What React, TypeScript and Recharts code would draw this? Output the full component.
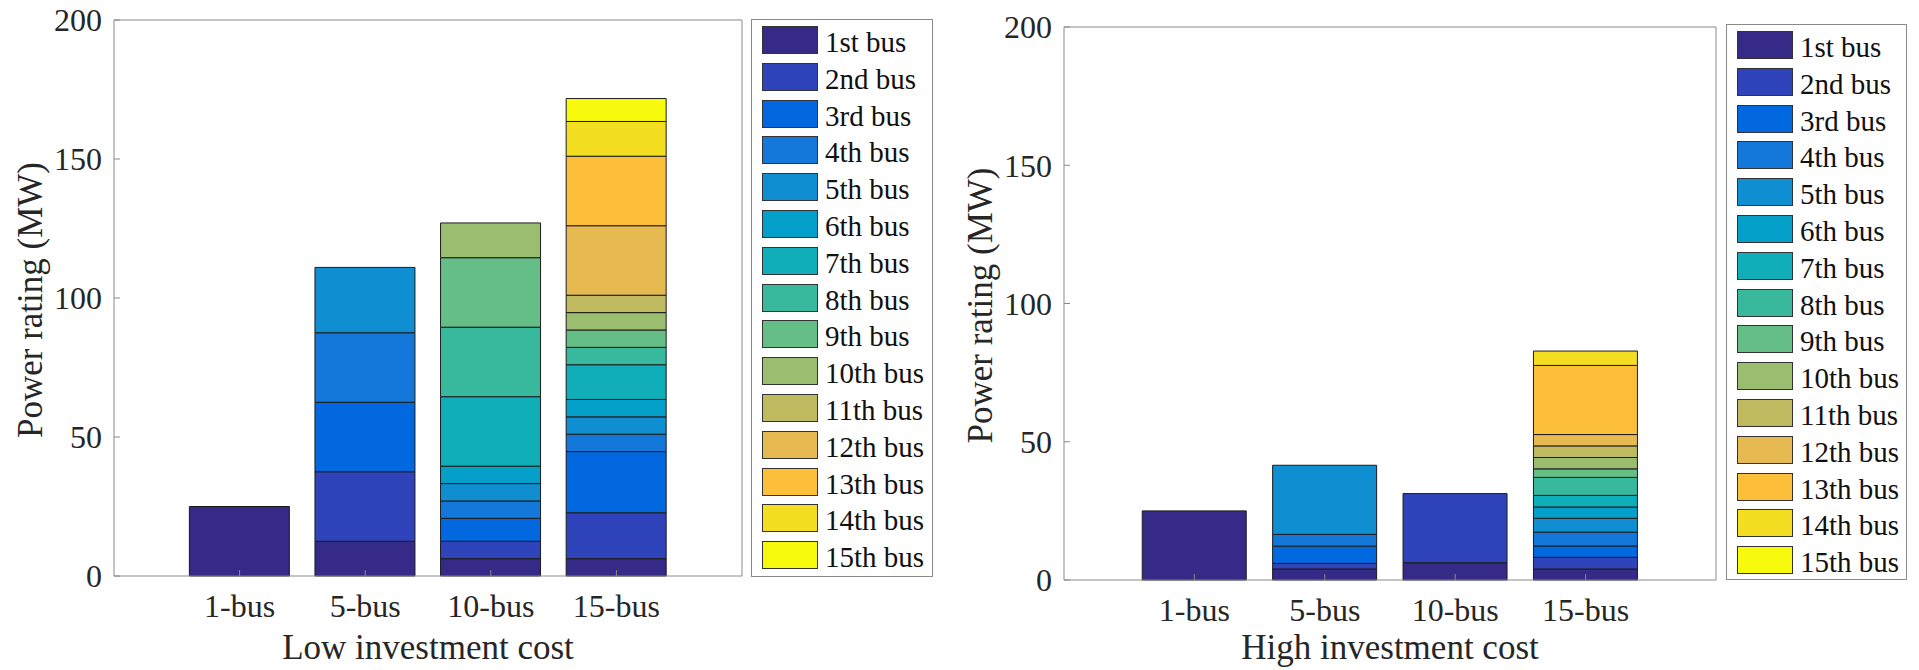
import { Bar, BarChart, Legend, XAxis, YAxis } from "recharts";

const categories = ["1-bus", "5-bus", "10-bus", "15-bus"];
const busNames = [
  "1st bus", "2nd bus", "3rd bus", "4th bus", "5th bus",
  "6th bus", "7th bus", "8th bus", "9th bus", "10th bus",
  "11th bus", "12th bus", "13th bus", "14th bus", "15th bus",
];
const busColors = [
  "#352A87", "#2F44BA", "#0268E0", "#1378DA", "#108ED2",
  "#05A0CA", "#10AEB9", "#38B89D", "#66BE87", "#9BBD6F",
  "#BFBA60", "#E7B951", "#FDBF3A", "#F3DE22", "#F8FA0E",
];
const yTicks = [0, 50, 100, 150, 200];

// MW per bus, bottom to top of each stack
const low1Bus = [25];
const low5Bus = [12.5, 25, 25, 25, 23.5];
const low10Bus = [6.25, 6.25, 8.25, 6.25, 6.25, 6.25, 25, 25, 25, 12.5];
const low15Bus = [6.25, 16.5, 22, 6.25, 6.25, 6.25, 12.5, 6.25, 6.25, 6.25, 6.25, 25, 25, 12.5, 8.25];

const high1Bus = [25];
const high5Bus = [4, 2, 6.25, 4.25, 25];
const high10Bus = [6.25, 25];
const high15Bus = [4, 4.2, 4.1, 5, 5, 4.1, 4.2, 6.5, 3.1, 4.1, 4.2, 4.1, 25, 5.2];

const FONT = "Liberation Serif";
const AXIS = "#8a8a8a";
const TEXT = "#262626";
const H = 670;

function buildRows(groups: number[][]) {
  return categories.map((name, i) => {
    const row: Record<string, string | number> = { name };
    groups[i].forEach((v, j) => {
      row[`b${j}`] = v;
    });
    return row;
  });
}

function BusLegend() {
  return (
    <div
      style={{
        position: "relative",
        width: "100%",
        height: "100%",
        boxSizing: "border-box",
        border: `1.5px solid ${AXIS}`,
        background: "#fff",
        fontFamily: FONT,
      }}
    >
      {busNames.map((n, i) => (
        <div key={n} style={{ position: "absolute", left: 10, top: 6 + i * 36.8, height: 28, display: "flex" }}>
          <div
            style={{
              width: 56,
              height: 28,
              boxSizing: "border-box",
              border: "1px solid #333",
              background: busColors[i],
            }}
          />
          <div style={{ marginLeft: 7, fontSize: 29, lineHeight: "28px", color: "#111", position: "relative", top: 2, whiteSpace: "nowrap" }}>
            {n}
          </div>
        </div>
      ))}
    </div>
  );
}

type Box = { left: number; right: number; top: number; bottom: number };

function CostChart({
  rows,
  title,
  offsetX,
  width,
  plot,
  legend,
  yLabelX,
}: {
  rows: Record<string, string | number>[];
  title: string;
  offsetX: number;
  width: number;
  plot: Box;
  legend: Box;
  yLabelX: number;
}) {
  const yAxisW = 60;
  const xAxisH = 40;
  const margin = {
    top: plot.top - 1,
    right: width - plot.right - 1,
    bottom: H - plot.bottom - xAxisH,
    left: plot.left - yAxisW,
  };
  const pad = (plot.right - plot.left) / 10;
  const cx = (plot.left + plot.right) / 2;
  const cy = (plot.top + plot.bottom) / 2 + 2;
  const tickStyle = { fill: TEXT, fontSize: 32, fontFamily: FONT };

  return (
    <div style={{ position: "absolute", left: offsetX, top: 0, width, height: H, fontFamily: FONT }}>
      <BarChart width={width} height={H} data={rows} margin={margin} barCategoryGap="10%" style={{ fontFamily: FONT }}>
        <XAxis
          dataKey="name"
          height={xAxisH}
          padding={{ left: pad, right: pad }}
          interval={0}
          tickSize={-6}
          tickMargin={24}
          stroke={AXIS}
          tick={tickStyle}
          label={() => (
            <text x={cx} y={659} textAnchor="middle" fontSize={35} fontFamily={FONT} fill={TEXT}>
              {title}
            </text>
          )}
        />
        <XAxis
          xAxisId="top"
          orientation="top"
          dataKey="name"
          height={1}
          padding={{ left: pad, right: pad }}
          interval={0}
          tickSize={-6}
          stroke={AXIS}
          tick={false}
        />
        <YAxis
          domain={[0, 200]}
          ticks={yTicks}
          width={yAxisW}
          tickSize={-6}
          tickMargin={18}
          stroke={AXIS}
          tick={tickStyle}
          label={() => (
            <text
              x={yLabelX}
              y={cy}
              transform={`rotate(-90 ${yLabelX} ${cy})`}
              textAnchor="middle"
              dominantBaseline="central"
              fontSize={35}
              fontFamily={FONT}
              fill={TEXT}
            >
              Power rating (MW)
            </text>
          )}
        />
        <YAxis
          yAxisId="right"
          orientation="right"
          domain={[0, 200]}
          ticks={yTicks}
          width={1}
          tickSize={-6}
          stroke={AXIS}
          tick={false}
        />
        {busNames.map((n, i) => (
          <Bar
            key={n}
            dataKey={`b${i}`}
            name={n}
            stackId="bus"
            fill={busColors[i]}
            stroke="#1c1c1c"
            strokeWidth={1}
            isAnimationActive={false}
          />
        ))}
        <Legend
          layout="vertical"
          align="center"
          verticalAlign="middle"
          content={() => <BusLegend />}
          wrapperStyle={{
            left: legend.left,
            top: legend.top,
            width: legend.right - legend.left,
            height: legend.bottom - legend.top,
          }}
        />
      </BarChart>
    </div>
  );
}

export default function App() {
  return (
    <div style={{ position: "absolute", left: 0, top: 0, width: 1919, height: H, background: "#fff" }}>
      <CostChart
        rows={buildRows([low1Bus, low5Bus, low10Bus, low15Bus])}
        title="Low investment cost"
        offsetX={0}
        width={960}
        plot={{ left: 114, right: 742, top: 20, bottom: 576 }}
        legend={{ left: 751, right: 933, top: 19, bottom: 577 }}
        yLabelX={30}
      />
      <CostChart
        rows={buildRows([high1Bus, high5Bus, high10Bus, high15Bus])}
        title="High investment cost"
        offsetX={960}
        width={959}
        plot={{ left: 104, right: 756, top: 27, bottom: 580 }}
        legend={{ left: 766, right: 947, top: 24, bottom: 580 }}
        yLabelX={20}
      />
    </div>
  );
}
